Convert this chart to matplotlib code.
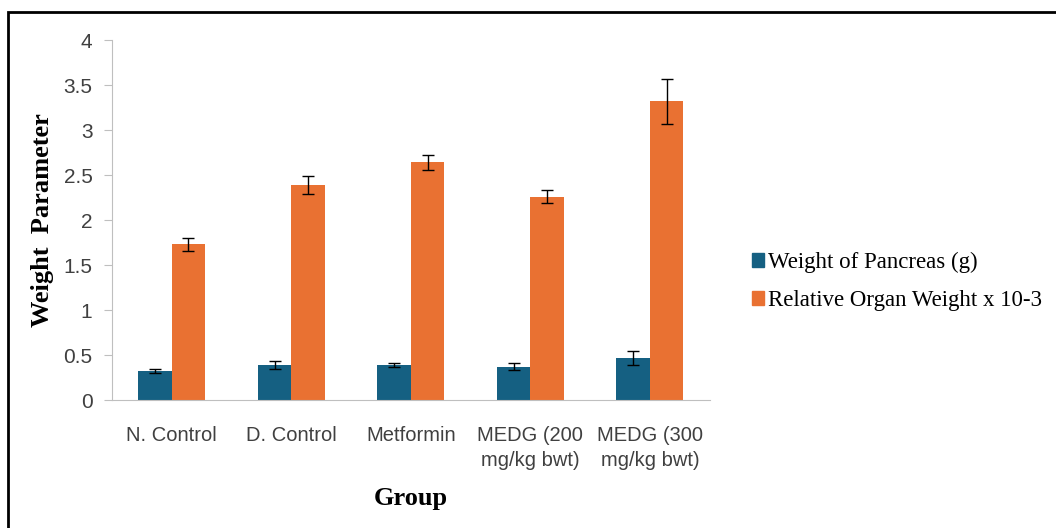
import numpy as np
import matplotlib
matplotlib.use("Agg")
import matplotlib.pyplot as plt
from matplotlib.patches import Patch, Rectangle

# Data
groups = ["N. Control", "D. Control", "Metformin", "MEDG (200\nmg/kg bwt)", "MEDG (300\nmg/kg bwt)"]
pancreas_weight = [0.32, 0.39, 0.39, 0.37, 0.47]
pancreas_err = [0.02, 0.04, 0.02, 0.04, 0.08]
relative_weight = [1.73, 2.39, 2.64, 2.26, 3.32]
relative_err = [0.07, 0.10, 0.08, 0.07, 0.25]
series_names = ["Weight of Pancreas (g)", "Relative Organ Weight x 10-3"]
yticks = [0, 0.5, 1, 1.5, 2, 2.5, 3, 3.5, 4]
ytick_labels = ["0", "0.5", "1", "1.5", "2", "2.5", "3", "3.5", "4"]

blue = "#156082"
orange = "#E97132"

fig = plt.figure(figsize=(10.56, 5.28), dpi=100)
ax = fig.add_axes([0.106, 0.2424, 0.566, 0.6818])

# outer frame of the picture
fig.patches.append(Rectangle((8 / 1056, -0.05), 1.1, 1 - 12 / 528 + 0.05,
                             transform=fig.transFigure, fill=False,
                             edgecolor="black", linewidth=2))

x = np.arange(len(groups))
w = 0.28
err_kw = dict(ecolor="black", elinewidth=1, capsize=4, capthick=1)
ax.bar(x - w / 2, pancreas_weight, w, color=blue, yerr=pancreas_err, error_kw=err_kw)
ax.bar(x + w / 2, relative_weight, w, color=orange, yerr=relative_err, error_kw=err_kw)

ax.set_xlim(-0.5, len(groups) - 0.5)
ax.set_ylim(0, 4)
ax.set_yticks(yticks)
ax.set_yticklabels(ytick_labels, fontsize=15, color="#404040", fontfamily="Liberation Sans")
ax.set_xticks(x)
ax.set_xticklabels(groups, fontsize=14.5, color="#404040", fontfamily="Liberation Sans",
                   linespacing=1.4)
ax.tick_params(axis="x", length=0, pad=19)
ax.tick_params(axis="y", length=6, color="#bfbfbf", pad=8)

for side in ["top", "right"]:
    ax.spines[side].set_visible(False)
ax.spines["left"].set_color("#bfbfbf")
ax.spines["bottom"].set_color("#bfbfbf")

ax.set_ylabel("Weight  Parameter", fontsize=19, fontweight="bold",
              fontfamily="Liberation Serif", labelpad=7)
ax.set_xlabel("Group", fontsize=19, fontweight="bold",
              fontfamily="Liberation Serif", labelpad=12)

handles = [Patch(color=blue), Patch(color=orange)]
fig.legend(handles, series_names, loc="center left", bbox_to_anchor=(0.693, 0.467),
           frameon=False, handlelength=0.5, handleheight=0.6, handletextpad=0.2,
           labelspacing=0.75, prop={"family": "Liberation Serif", "size": 16.5})

fig.savefig("out.png", dpi=100)
